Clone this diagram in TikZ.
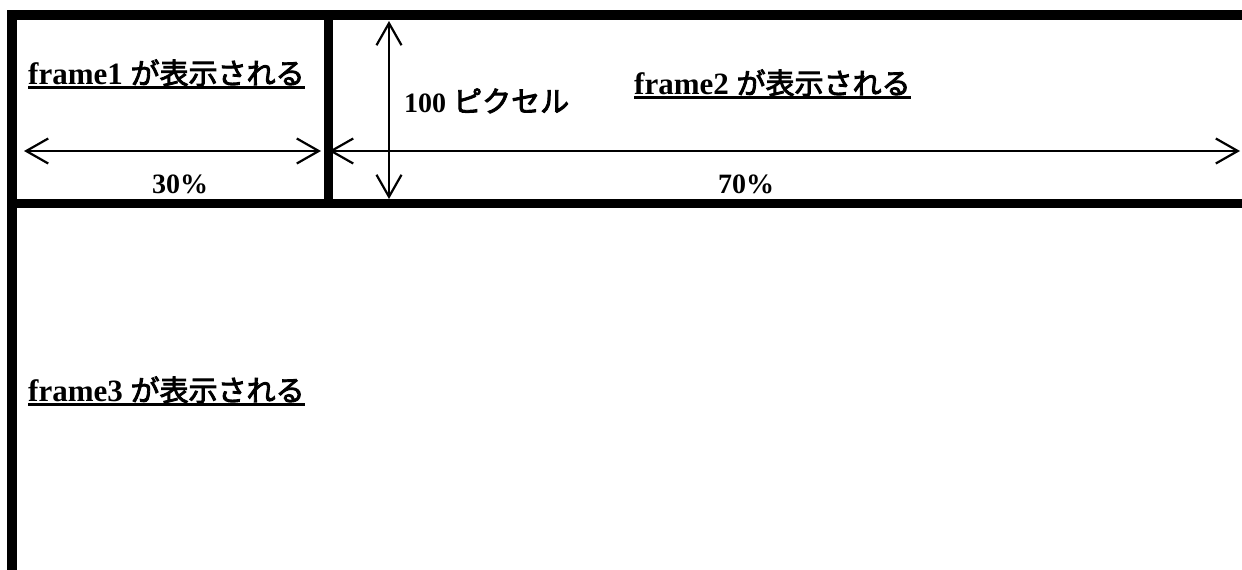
\documentclass[tikz,border=0pt]{standalone}
\usepackage{fontspec}
\setmainfont{Liberation Serif}
\newfontfamily\jp{Noto Sans CJK JP}[FakeBold=3]
\usetikzlibrary{arrows.meta}
\newcommand\jpt[1]{{\fontsize{29}{33}\selectfont\mdseries\jp #1}}
\tikzset{
  band/.style={fill=black, draw=none},
  dimline/.style={line width=2.2pt, {Straight Barb[length=22pt,width=25pt]}-{Straight Barb[length=22pt,width=25pt]}},
  lbl/.style={inner sep=0pt, font=\fontsize{31}{35}\selectfont\bfseries},
  pct/.style={inner sep=0pt, font=\fontsize{28}{32}\selectfont\bfseries},
  uline/.style={line width=2.5pt},
}
\begin{document}
\begin{tikzpicture}[x=1pt,y=-1pt]
\useasboundingbox (0,0) rectangle (1242,570);
% frame borders
\fill[band] (7,10) rectangle (1242,20);
\fill[band] (7,10) rectangle (17,570);
\fill[band] (7,199) rectangle (1242,208);
\fill[band] (324,10) rectangle (333,208);
% labels
\node[lbl, anchor=base west] (f1) at (28,84) {frame1 \jpt{が表示される}};
\node[lbl, anchor=base west] (f2) at (634,94) {frame2 \jpt{が表示される}};
\node[lbl, anchor=base west] (f3) at (28,401) {frame3 \jpt{が表示される}};
\node[pct, anchor=base west] (px) at (404,112) {100 \jpt{ピクセル}};
\node[pct, anchor=base] (p30) at (180,193) {30\%};
\node[pct, anchor=base] (p70) at (746,193) {70\%};
\foreach \n in {f1,f2,f3}
  \draw[uline] ([yshift=-3.5pt]\n.base west) -- ([yshift=-3.5pt]\n.base east);
% dimension arrows
\coordinate (l1) at (24,151);
\coordinate (r1) at (321,151);
\coordinate (l2) at (329,151);
\coordinate (r2) at (1240,151);
\coordinate (vt) at (389,21);
\coordinate (vb) at (389,199);
\draw[dimline] (l1) -- (r1);
\draw[dimline] (l2) -- (r2);
\draw[dimline] (vt) -- (vb);
\end{tikzpicture}
\end{document}
